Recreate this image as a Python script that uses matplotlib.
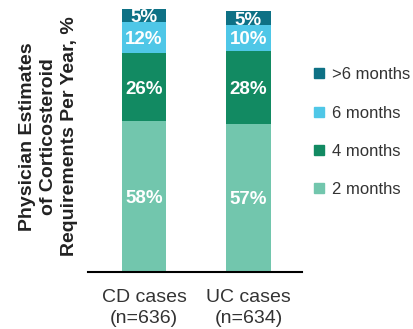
import matplotlib.pyplot as plt
from matplotlib.patches import Patch

cases = ["CD cases\n(n=636)", "UC cases\n(n=634)"]
series = ["2 months", "4 months", "6 months", ">6 months"]
two_months = [58, 57]
four_months = [26, 28]
six_months = [12, 10]
over_six = [5, 5]
colors = ["#72c6ad", "#128a62", "#4fc7e7", "#0e7185"]

plt.rcParams['font.family'] = ['Liberation Sans', 'DejaVu Sans']

fig = plt.figure(figsize=(4.13, 3.29), dpi=100)
ax = fig.add_axes([0.213, 0.173, 0.518, 0.800])

x = [0, 1]
bottom = [0, 0]
for vals, col in zip([two_months, four_months, six_months, over_six], colors):
    ax.bar(x, vals, width=0.43, bottom=bottom, color=col, edgecolor="none")
    for xi, v, b in zip(x, vals, bottom):
        ax.text(xi, b + v / 2, f"{v}%", ha='center', va='center_baseline',
                color='white', fontsize=13.5, fontweight='bold')
    bottom = [b + v for b, v in zip(bottom, vals)]

ax.set_xlim(-0.536, 1.512)
ax.set_ylim(0, 101)
ax.set_xticks(x)
ax.set_xticklabels(cases, fontsize=14, color='#333333', linespacing=1.35)
ax.tick_params(axis='x', length=0, pad=12)
ax.set_yticks([])
for s in ['top', 'right', 'left']:
    ax.spines[s].set_visible(False)
ax.spines['bottom'].set_linewidth(1.5)

fig.text(0.118, 0.585, "Physician Estimates\nof Corticosteroid\nRequirements Per Year, %",
         rotation=90, ha='center', va='center', fontsize=14, fontweight='bold',
         color='#222222', linespacing=1.3)

handles = [Patch(color=c, label=l) for c, l in zip(colors, series)][::-1]
fig.legend(handles=handles, loc='center left', bbox_to_anchor=(0.725, 0.598),
           frameon=False, fontsize=12, labelcolor='#333333', handlelength=0.55,
           handleheight=0.55, handletextpad=0.5, labelspacing=1.4)

fig.savefig("out.png", dpi=100)
